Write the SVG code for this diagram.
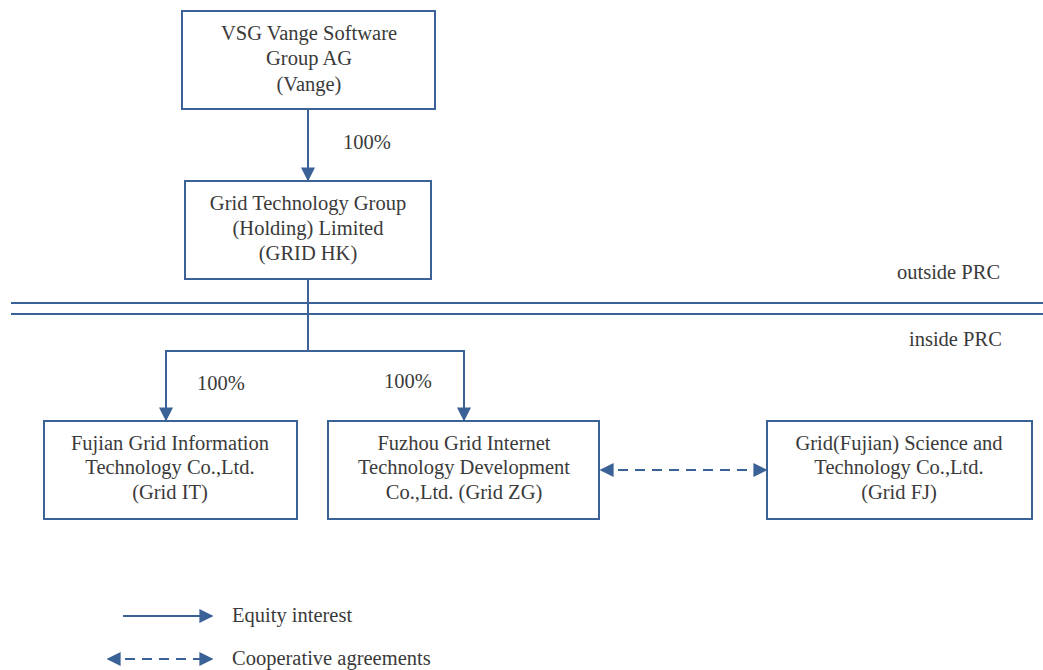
<svg xmlns="http://www.w3.org/2000/svg" width="1043" height="670" viewBox="0 0 1043 670">
<style>
.box{fill:#fff;stroke:#3b6296;stroke-width:2}
.ln{fill:none;stroke:#3b6296;stroke-width:2}
.dash{stroke-dasharray:10 7}
text{font-family:"Liberation Serif","Times New Roman",serif;font-size:20.5px;fill:#3a3a3a}
.c{text-anchor:middle}
</style>
<defs>
<marker id="ah" viewBox="0 0 10 10" refX="9" refY="5" markerWidth="7" markerHeight="7" orient="auto-start-reverse" markerUnits="strokeWidth">
<path d="M0,0 L10,5 L0,10 z" fill="#3b6296"/>
</marker>
</defs>
<rect width="1043" height="670" fill="#fff"/>
<g id="boundary">
<line class="ln" x1="11" y1="303" x2="1043" y2="303"/>
<line class="ln" x1="11" y1="314" x2="1043" y2="314"/>
<text x="897" y="279">outside PRC</text>
<text x="909" y="346">inside PRC</text>
</g>
<g id="connectors">
<line class="ln" x1="308" y1="110" x2="308" y2="180" marker-end="url(#ah)"/>
<polyline class="ln" points="308,280 308,351"/>
<polyline class="ln" points="166,420 166,351 464,351 464,420" marker-start="url(#ah)" marker-end="url(#ah)"/>
<line class="ln dash" x1="601" y1="470" x2="766" y2="470" marker-start="url(#ah)" marker-end="url(#ah)"/>
<text x="343" y="149">100%</text>
<text x="197" y="390">100%</text>
<text x="384" y="388">100%</text>
</g>
<g id="vange">
<rect class="box" x="182" y="11" width="253" height="98"/>
<text class="c" x="309" y="40">VSG Vange Software</text>
<text class="c" x="309" y="65">Group AG</text>
<text class="c" x="309" y="91">(Vange)</text>
</g>
<g id="gridhk">
<rect class="box" x="185" y="181" width="246" height="98"/>
<text class="c" x="308" y="210">Grid Technology Group</text>
<text class="c" x="308" y="235">(Holding) Limited</text>
<text class="c" x="308" y="260">(GRID HK)</text>
</g>
<g id="gridit">
<rect class="box" x="44" y="421" width="253" height="98"/>
<text class="c" x="170" y="450">Fujian Grid Information</text>
<text class="c" x="170" y="474">Technology Co.,Ltd.</text>
<text class="c" x="170" y="499">(Grid IT)</text>
</g>
<g id="gridzg">
<rect class="box" x="328" y="421" width="271" height="98"/>
<text class="c" x="464" y="450">Fuzhou Grid Internet</text>
<text class="c" x="464" y="474">Technology Development</text>
<text class="c" x="464" y="499">Co.,Ltd. (Grid ZG)</text>
</g>
<g id="gridfj">
<rect class="box" x="767" y="421" width="265" height="98"/>
<text class="c" x="899" y="450">Grid(Fujian) Science and</text>
<text class="c" x="899" y="474">Technology Co.,Ltd.</text>
<text class="c" x="899" y="499">(Grid FJ)</text>
</g>
<g id="legend">
<line class="ln" x1="123" y1="616" x2="212" y2="616" marker-end="url(#ah)"/>
<text x="232" y="622">Equity interest</text>
<line class="ln dash" x1="108" y1="659" x2="212" y2="659" marker-start="url(#ah)" marker-end="url(#ah)"/>
<text x="232" y="665">Cooperative agreements</text>
</g>
</svg>
